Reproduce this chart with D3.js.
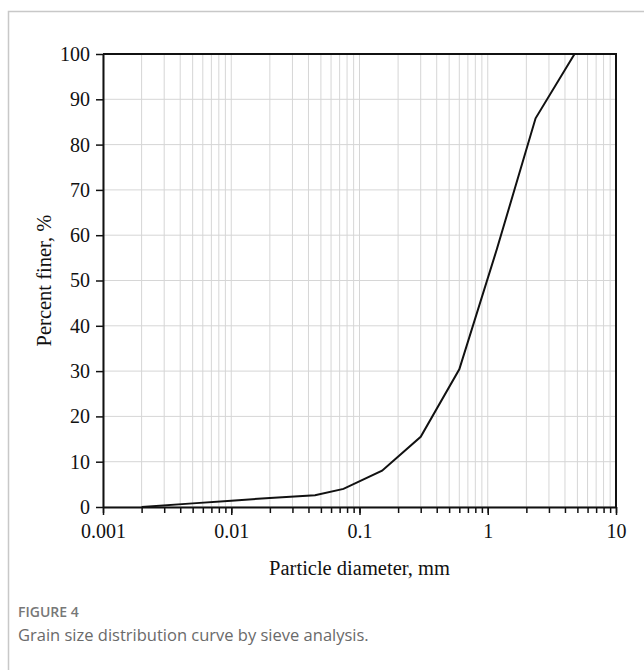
<!DOCTYPE html>
<html>
<head>
<meta charset="utf-8">
<script src="https://cdn.jsdelivr.net/npm/d3@7"></script>
<style>
  body { margin: 0; background: #fff; }
  svg { display: block; }
  .tick text { font-family: "Liberation Serif", "Times New Roman", serif; font-size: 20px; fill: #111; }
  .grid line { stroke: #d6d6d6; stroke-width: 1; }
  .axis path, .axis line { stroke: #111; }
  .title { font-family: "Liberation Serif", "Times New Roman", serif; font-size: 20.5px; fill: #111; }
  .caption-head { font-family: "Open Sans", sans-serif; font-size: 14px; font-weight: 600; fill: #777; }
  .caption { font-family: "Open Sans", sans-serif; font-size: 16.5px; fill: #6a6a6a; }
</style>
</head>
<body>
<svg width="644" height="670"></svg>
<script>
// sieve analysis: particle diameter (mm) vs percent finer (%)
var diameters = [0.002, 0.005, 0.01, 0.02, 0.045, 0.075, 0.15, 0.3, 0.6, 1.18, 2.36, 4.75];
var percentFiner = [0, 0.8, 1.4, 2.0, 2.6, 4.0, 8.0, 15.5, 30.4, 57.0, 85.8, 100];
var xTicks = [0.001, 0.01, 0.1, 1, 10];
var yTicks = [0, 10, 20, 30, 40, 50, 60, 70, 80, 90, 100];

var svg = d3.select("svg"),
    margin = {top: 54, right: 28, bottom: 163, left: 103},
    width = +svg.attr("width") - margin.left - margin.right,
    height = +svg.attr("height") - margin.top - margin.bottom;

// figure frame (top and left rule)
svg.append("path")
    .attr("d", "M8.5,670V11.5H644")
    .attr("fill", "none")
    .attr("stroke", "#c8c8c8")
    .attr("stroke-width", 1.5);

var x = d3.scaleLog().domain([0.001, 10]).range([0, width]),
    y = d3.scaleLinear().domain([0, 100]).range([height, 0]);

var g = svg.append("g")
    .attr("transform", "translate(" + margin.left + "," + margin.top + ")");

// minor log ticks 1..9 in every decade
var minorTicks = [];
for (var e = -3; e < 1; e++) {
  for (var m = 1; m < 10; m++) minorTicks.push(m * Math.pow(10, e));
}
minorTicks.push(10);

g.append("g").attr("class", "grid")
  .selectAll("line").data(minorTicks).enter().append("line")
    .attr("x1", function(d){return x(d);})
    .attr("x2", function(d){return x(d);})
    .attr("y1", 0)
    .attr("y2", height);

g.append("g").attr("class", "grid")
  .selectAll("line").data(yTicks).enter().append("line")
    .attr("x1", 0)
    .attr("x2", width)
    .attr("y1", function(d){return y(d);})
    .attr("y2", function(d){return y(d);});

// x axis: minor ticks then labelled decades
g.append("g")
    .attr("class", "axis axis--x")
    .attr("transform", "translate(0," + height + ")")
    .call(d3.axisBottom(x).tickValues(minorTicks).tickFormat("").tickSizeInner(6).tickSizeOuter(0))
    .call(function(a){ a.select(".domain").remove(); a.selectAll("line").attr("stroke-width", 1.5); });

g.append("g")
    .attr("class", "axis axis--x")
    .attr("transform", "translate(0," + height + ")")
    .call(d3.axisBottom(x).tickValues(xTicks).tickFormat(function(d){return String(d);}).tickSizeInner(8).tickSizeOuter(0).tickPadding(9))
    .call(function(a){ a.select(".domain").attr("stroke-width", 2); a.selectAll("line").attr("stroke-width", 1.5); });

g.append("g")
    .attr("class", "axis axis--y")
    .call(d3.axisLeft(y).tickValues(yTicks).tickSizeInner(7).tickSizeOuter(0).tickPadding(6))
    .call(function(a){ a.select(".domain").attr("stroke-width", 2); a.selectAll("line").attr("stroke-width", 1.5); });

// top and right frame of the plot
g.append("path")
    .attr("d", "M0," + y(100) + "H" + width + "V" + height)
    .attr("fill", "none")
    .attr("stroke", "#111")
    .attr("stroke-width", 2);

var line = d3.line()
    .x(function(d, i){return x(diameters[i]);})
    .y(function(d){return y(d);});

g.append("path")
    .datum(percentFiner)
    .attr("fill", "none")
    .attr("stroke", "#111")
    .attr("stroke-width", 2)
    .attr("d", line);

svg.append("text")
    .attr("class", "title")
    .attr("text-anchor", "middle")
    .attr("x", margin.left + width / 2)
    .attr("y", 575)
    .text("Particle diameter, mm");

svg.append("text")
    .attr("class", "title")
    .attr("text-anchor", "middle")
    .attr("transform", "translate(51," + (margin.top + height / 2) + ") rotate(-90)")
    .text("Percent finer, %");

svg.append("text")
    .attr("class", "caption-head")
    .attr("x", 18)
    .attr("y", 617)
    .text("FIGURE 4");

svg.append("text")
    .attr("class", "caption")
    .attr("x", 18)
    .attr("y", 641)
    .text("Grain size distribution curve by sieve analysis.");
</script>
</body>
</html>
